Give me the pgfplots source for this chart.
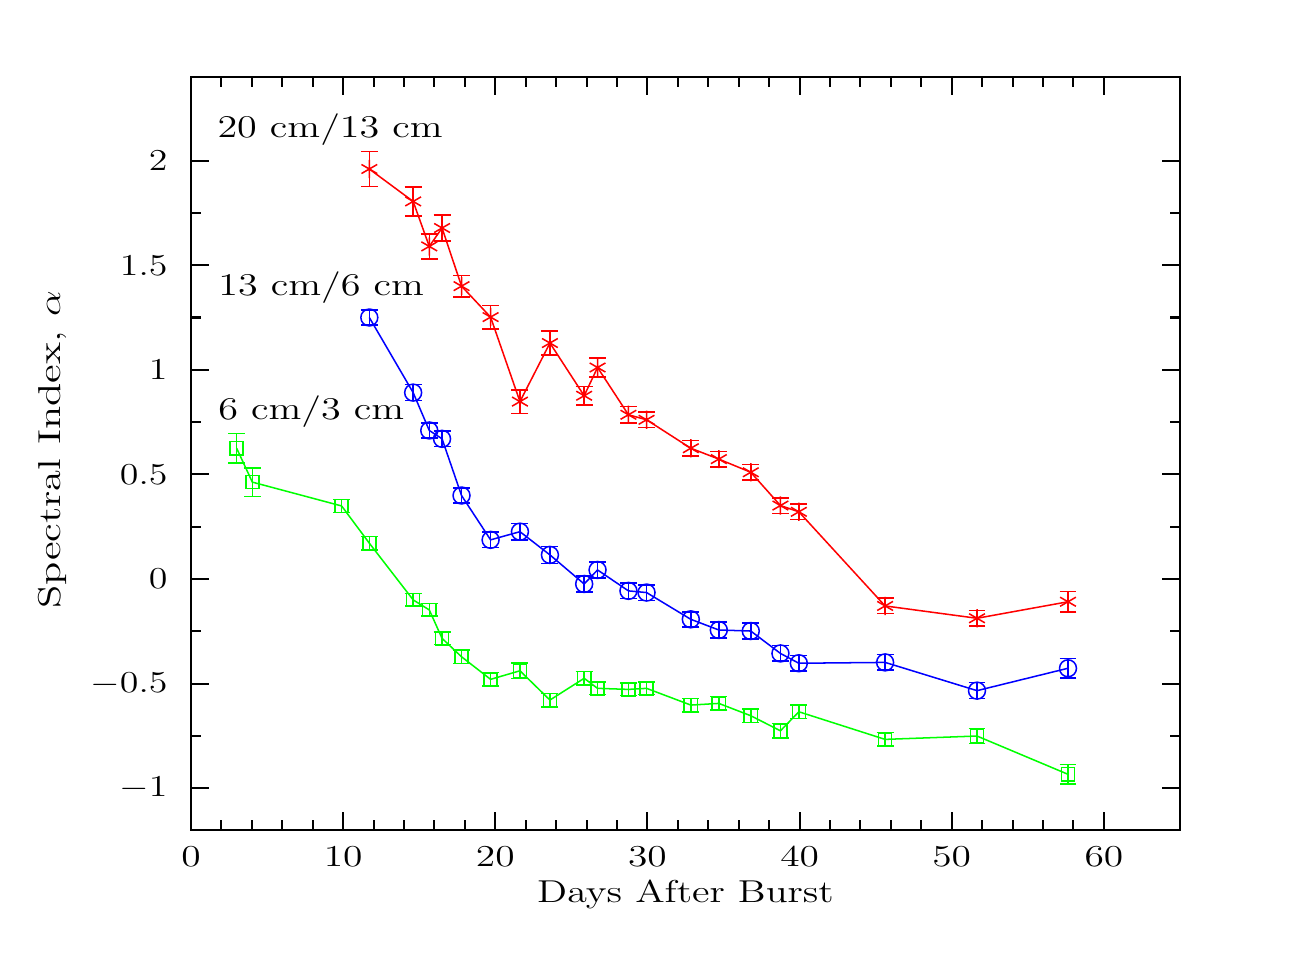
\documentclass[border=0pt]{standalone}
\usepackage{graphicx}
\usepackage{pgfplots}
\pgfplotsset{compat=1.18}

\definecolor{pgred}{RGB}{255,0,0}
\definecolor{pgblue}{RGB}{0,0,255}
\definecolor{pggreen}{RGB}{0,255,0}

\newcommand{\wide}[1]{\scalebox{1.27}[1]{#1}}

\begin{document}
\begin{tikzpicture}
\begin{axis}[
  name=ax,
  scale only axis,
  width=13.736cm, height=10.458cm,
  xmin=0, xmax=65,
  ymin=-1.2, ymax=2.4,
  xtick={0,10,...,60},
  ytick={-1,-0.5,0,0.5,1,1.5,2},
  minor x tick num=4,
  minor y tick num=1,
  tick pos=both,
  tick align=inside,
  major tick length=0.25cm,
  minor tick length=0.139cm,
  axis line style={line width=0.8pt},
  every tick/.style={line width=0.8pt, black},
  xticklabel={\scalebox{1.3}[1]{$\pgfmathprintnumber{\tick}$}},
  yticklabel={\scalebox{1.25}[1]{$\pgfmathprintnumber{\tick}$}},
  xticklabel style={font=\fontsize{12}{14}\selectfont, inner sep=0pt, anchor=center, yshift=-0.375cm},
  yticklabel style={font=\fontsize{12}{14}\selectfont, inner sep=0pt, anchor=east, xshift=-0.32cm},
  xlabel={\wide{Days After Burst}},
  ylabel={\scalebox{1.35}[1]{Spectral Index, $\alpha$}},
  label style={font=\fontsize{12.5}{15}\selectfont},
  xlabel style={at={(axis description cs:0.5,-0.0863)}, anchor=center, inner sep=0pt},
  ylabel style={at={(axis description cs:-0.1405,0.505)}, anchor=center, inner sep=0pt},
  error bars/y dir=both,
  error bars/y explicit,
  error bars/error bar style={line width=0.6pt},
  error bars/error mark options={rotate=90, mark size=3.35pt, line width=0.6pt},
  clip=false,
]

% 20 cm / 13 cm
\addplot[color=pgred, line width=0.6pt, mark=asterisk, mark size=3.6pt,
  mark options={line width=0.6pt}] coordinates {
  (11.72,1.960) +- (0,0.084)
  (14.60,1.805) +- (0,0.070)
  (15.66,1.590) +- (0,0.060)
  (16.50,1.678) +- (0,0.061)
  (17.78,1.400) +- (0,0.051)
  (19.69,1.252) +- (0,0.056)
  (21.62,0.848) +- (0,0.056)
  (23.59,1.128) +- (0,0.058)
  (25.84,0.876) +- (0,0.045)
  (26.72,1.011) +- (0,0.046)
  (28.75,0.785) +- (0,0.040)
  (29.94,0.761) +- (0,0.038)
  (32.85,0.625) +- (0,0.037)
  (34.69,0.573) +- (0,0.037)
  (36.79,0.510) +- (0,0.038)
  (38.74,0.351) +- (0,0.037)
  (39.95,0.321) +- (0,0.037)
  (45.62,-0.129) +- (0,0.037)
  (51.66,-0.188) +- (0,0.038)
  (57.64,-0.109) +- (0,0.048)
};

% 13 cm / 6 cm
\addplot[color=pgblue, line width=0.6pt, mark=o, mark size=3.35pt,
  mark options={line width=0.6pt}] coordinates {
  (11.72,1.250) +- (0,0.037)
  (14.60,0.891) +- (0,0.038)
  (15.66,0.710) +- (0,0.036)
  (16.50,0.670) +- (0,0.037)
  (17.78,0.399) +- (0,0.037)
  (19.69,0.187) +- (0,0.037)
  (21.62,0.226) +- (0,0.040)
  (23.59,0.115) +- (0,0.040)
  (25.84,-0.024) +- (0,0.039)
  (26.72,0.043) +- (0,0.038)
  (28.75,-0.057) +- (0,0.037)
  (29.94,-0.065) +- (0,0.037)
  (32.85,-0.193) +- (0,0.036)
  (34.69,-0.244) +- (0,0.038)
  (36.79,-0.249) +- (0,0.038)
  (38.74,-0.356) +- (0,0.037)
  (39.95,-0.403) +- (0,0.037)
  (45.62,-0.399) +- (0,0.037)
  (51.66,-0.534) +- (0,0.038)
  (57.64,-0.427) +- (0,0.046)
};

% 6 cm / 3 cm
\addplot[color=pggreen, line width=0.6pt, mark=square, mark size=2.6pt,
  mark options={line width=0.6pt}] coordinates {
  (3.00,0.625) +- (0,0.070)
  (4.03,0.463) +- (0,0.068)
  (9.90,0.349) +- (0,0.032)
  (11.72,0.171) +- (0,0.032)
  (14.60,-0.100) +- (0,0.030)
  (15.66,-0.148) +- (0,0.030)
  (16.50,-0.284) +- (0,0.030)
  (17.78,-0.372) +- (0,0.032)
  (19.69,-0.480) +- (0,0.032)
  (21.62,-0.439) +- (0,0.036)
  (23.59,-0.579) +- (0,0.032)
  (25.84,-0.475) +- (0,0.032)
  (26.72,-0.523) +- (0,0.030)
  (28.75,-0.528) +- (0,0.030)
  (29.94,-0.523) +- (0,0.030)
  (32.85,-0.603) +- (0,0.032)
  (34.69,-0.595) +- (0,0.032)
  (36.79,-0.654) +- (0,0.032)
  (38.74,-0.726) +- (0,0.034)
  (39.95,-0.635) +- (0,0.033)
  (45.62,-0.767) +- (0,0.032)
  (51.66,-0.751) +- (0,0.036)
  (57.64,-0.934) +- (0,0.047)
};

\node[anchor=west, inner sep=0pt, font=\fontsize{12.5}{15}\selectfont]
  at (axis cs:1.71,2.148) {\wide{20 cm/13 cm}};
\node[anchor=west, inner sep=0pt, font=\fontsize{12.5}{15}\selectfont]
  at (axis cs:1.77,1.392) {\wide{13 cm/6 cm}};
\node[anchor=west, inner sep=0pt, font=\fontsize{12.5}{15}\selectfont]
  at (axis cs:1.77,0.799) {\wide{6 cm/3 cm}};
\end{axis}
\path (ax.south west) ++(-2.653cm,-1.931cm) rectangle ++(18cm,13.458cm);
\end{tikzpicture}
\end{document}
